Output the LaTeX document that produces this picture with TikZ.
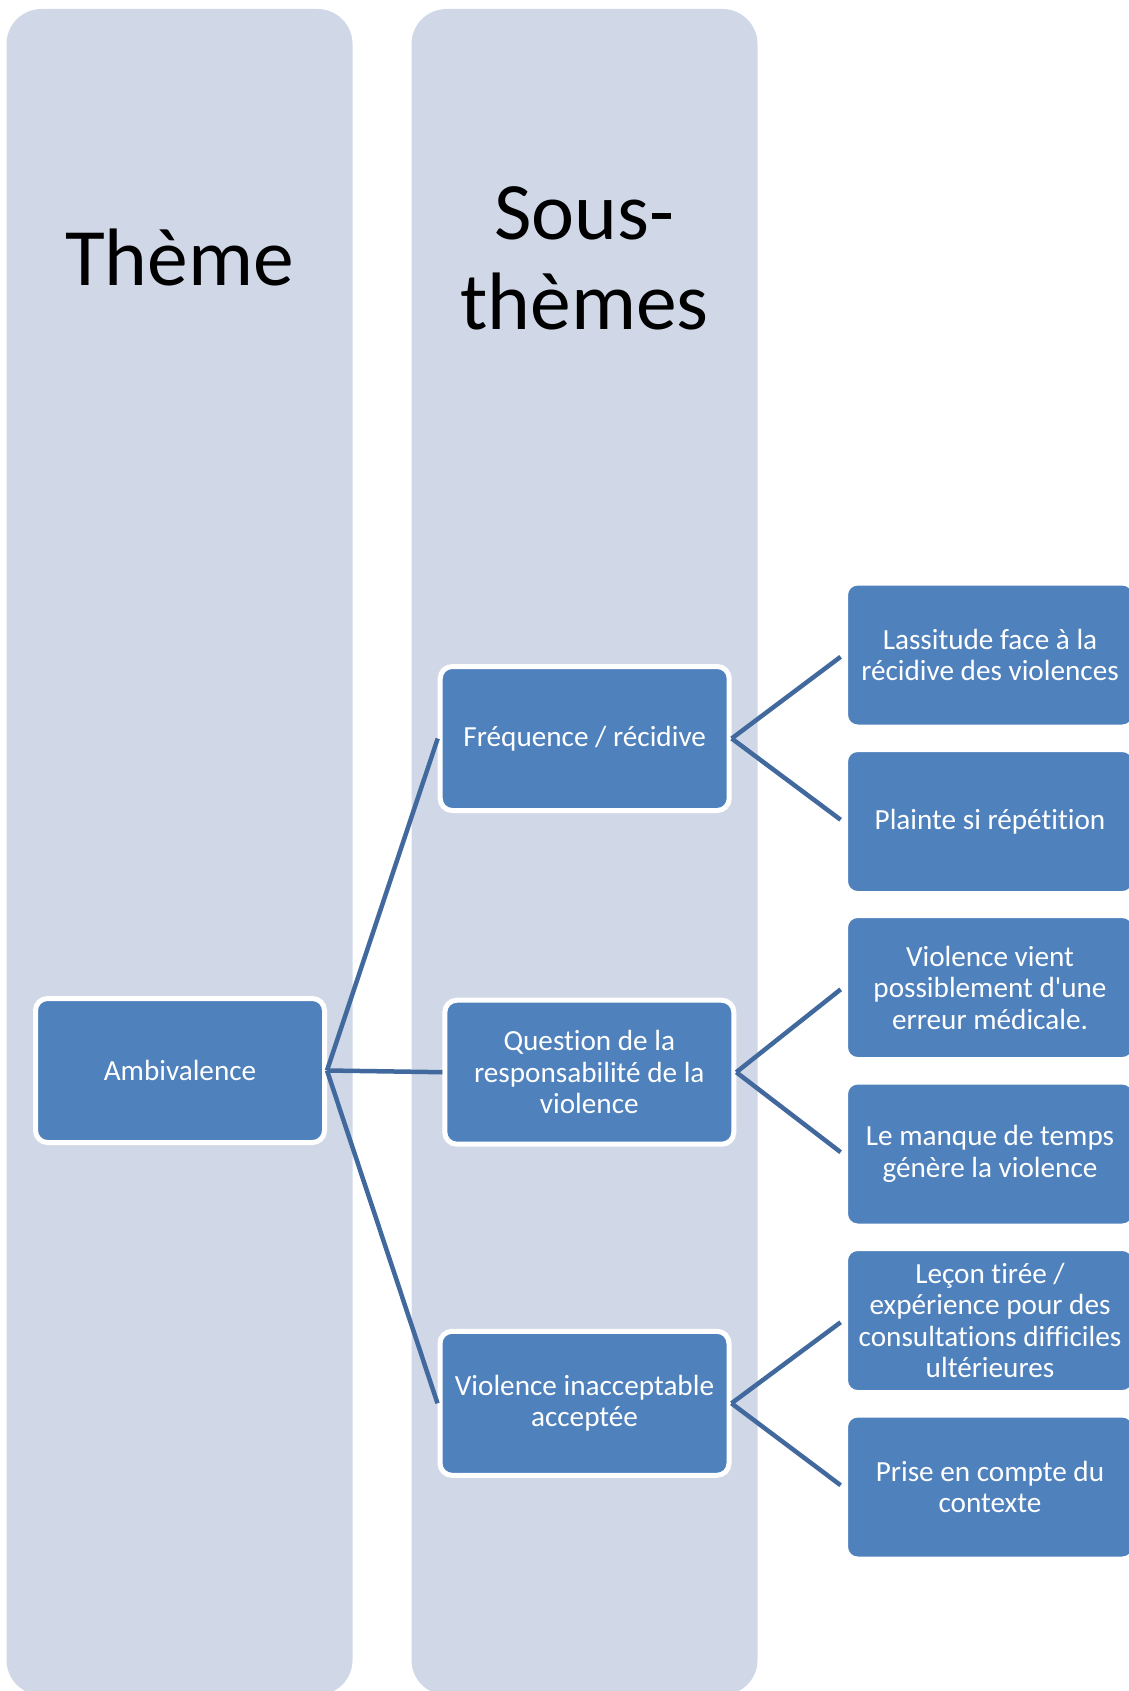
\documentclass[tikz,border=0pt]{standalone}
\usepackage{fontspec}
\setmainfont{Carlito}[Ligatures={TeXOff,NoCommon}]
\definecolor{bandgrey}{HTML}{D0D8E8}
\definecolor{boxblue}{HTML}{4F81BD}
\definecolor{linkblue}{HTML}{41699D}

\begin{document}
\begin{tikzpicture}[
        x=1pt, y=-1pt,
        band/.style={
            rectangle, fill=bandgrey, rounded corners=35pt,
            minimum width=346pt, minimum height=1686pt, inner sep=0pt
        },
        heading/.style={
            font=\fontsize{81.5}{90}\selectfont, align=center, inner sep=0pt
        },
        box/.style={
            rectangle, rounded corners=12pt, fill=boxblue,
            draw=white, line width=5pt,
            minimum width=289pt, minimum height=144pt, inner sep=2pt,
            align=center, text=white, font=\fontsize{29.2}{31.5}\selectfont
        },
        link/.style={draw=linkblue, line width=4.5pt}
    ]
        \useasboundingbox (0,0) rectangle (1129,1691);
        \clip (0,0) rectangle (1129,1691);

        % Colonnes
        \node[band] (colTheme) at (179.5,852) {};
        \node[band] (colSous) at (584.5,852) {};
        \node[heading, anchor=base] (hTheme) at (179.5,285) {Thème};
        \node[heading] (hSous) at (584.5,258.5) {Sous-\\thèmes};

        % Thème
        \node[box] (amb) at (180,1070.5) {Ambivalence};

        % Sous-thèmes
        \node[box] (freq) at (584.7,738.5) {Fréquence / récidive};
        \node[box] (resp) at (589.3,1072.2) {Question de la\\responsabilité de la\\violence};
        \node[box] (inacc) at (584.5,1403.3) {Violence inacceptable\\acceptée};

        % Détails
        \node[box] (lassitude) at (990,655) {Lassitude face à la\\récidive des violences};
        \node[box] (plainte) at (990,821.5) {Plainte si répétition};
        \node[box] (erreur) at (990,987.5) {Violence vient\\possiblement d'une\\erreur médicale.};
        \node[box] (temps) at (990,1154) {Le manque de temps\\génère la violence};
        \node[box] (lecon) at (990,1320.5) {Leçon tirée /\\expérience pour des\\consultations difficiles\\ultérieures};
        \node[box] (contexte) at (990,1487) {Prise en compte du\\contexte};

        % Relations
        \draw[link] (amb.east) -- (freq.west);
        \draw[link] (amb.east) -- (resp.west);
        \draw[link] (amb.east) -- (inacc.west);
        \draw[link, shorten >=3pt] (freq.east) -- (lassitude.west);
        \draw[link, shorten >=3pt] (freq.east) -- (plainte.west);
        \draw[link, shorten >=3pt] (resp.east) -- (erreur.west);
        \draw[link, shorten >=3pt] (resp.east) -- (temps.west);
        \draw[link, shorten >=3pt] (inacc.east) -- (lecon.west);
        \draw[link, shorten >=3pt] (inacc.east) -- (contexte.west);

    \end{tikzpicture}
\end{document}
